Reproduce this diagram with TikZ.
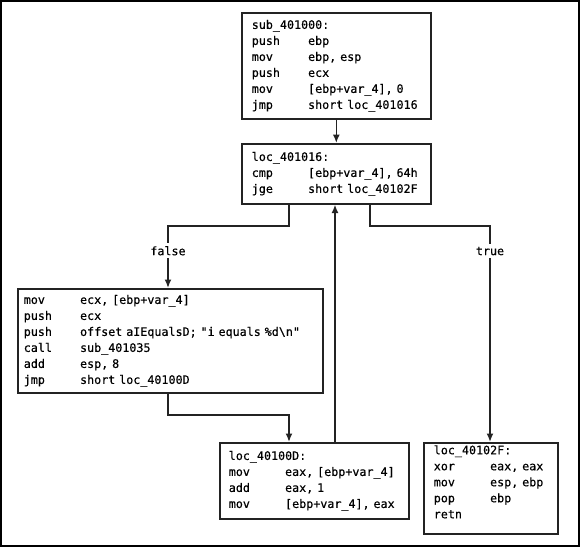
\documentclass[tikz,border=0pt]{standalone}
\usepackage{fontspec}
\setmonofont[FakeBold=0.4]{DejaVu Sans Mono}
\usetikzlibrary{arrows.meta}
\definecolor{edge}{RGB}{35,35,35}
\newcommand{\asm}[2]{\makebox[56.3pt][l]{#1}#2}
\newcommand{\monofnt}{\ttfamily\fontsize{11.7}{16}\selectfont\spaceskip=7.04pt\relax\xspaceskip=7.04pt\relax}
\tikzset{
  box/.style={draw=edge, line width=1.6pt, anchor=north west, align=left,
    font=\monofnt, inner ysep=0pt},
  arr/.style={draw=edge, line width=1.6pt, -{Latex[length=8.5pt,width=7pt]}},
  lbl/.style={fill=white, font=\monofnt, inner sep=3pt}
}
\begin{document}
\begin{tikzpicture}[x=1pt,y=-1pt]
\useasboundingbox (0,0) rectangle (580,547);
\draw[line width=2pt] (1,1) rectangle (579,546);

\node[box, inner xsep=10pt, text width=169pt, minimum height=106pt] (b1) at (241,12)
  {sub\_401000:\\
   \asm{push}{ebp}\\
   \asm{mov}{ebp, esp}\\
   \asm{push}{ecx}\\
   \asm{mov}{[ebp+var\_4], 0}\\
   \asm{jmp}{short loc\_401016}};

\node[box, inner xsep=10pt, text width=169pt, minimum height=60pt] (b2) at (241,143)
  {loc\_401016:\\
   \asm{cmp}{[ebp+var\_4], 64h}\\
   \asm{jge}{short loc\_40102F}};

\node[box, inner xsep=6pt, text width=293pt, minimum height=104pt] (b3) at (17,288)
  {\asm{mov}{ecx, [ebp+var\_4]}\\
   \asm{push}{ecx}\\
   \asm{push}{offset aIEqualsD; "i equals \%d\textbackslash n"}\\
   \asm{call}{sub\_401035}\\
   \asm{add}{esp, 8}\\
   \asm{jmp}{short loc\_40100D}};

\node[box, inner xsep=9pt, text width=171pt, minimum height=76pt] (b4) at (219,442)
  {loc\_40100D:\\
   \asm{mov}{eax, [ebp+var\_4]}\\
   \asm{add}{eax, 1}\\
   \asm{mov}{[ebp+var\_4], eax}};

\node[box, inner xsep=10pt, text width=114pt, minimum height=91pt] (b5) at (423,442)
  {loc\_40102F:\\
   \asm{xor}{eax, eax}\\
   \asm{mov}{esp, ebp}\\
   \asm{pop}{ebp}\\
   retn\rule[-13pt]{0pt}{0pt}};

\coordinate (fx) at (289,226);
\coordinate (fl) at (168,226);
\coordinate (tx) at (370,226);
\coordinate (tr) at (490,226);
\coordinate (lx) at (168,415);
\coordinate (lr) at (289,415);
\coordinate (bx) at (335,0);

\draw[arr] (b1.south) -- (b2.north);
\draw[arr] (b2.south -| fx) -- (fx) -- (fl) -- node[lbl, pos=0.4] (lf) {false} (b3.north -| fl);
\draw[arr] (b2.south -| tx) -- (tx) -- (tr) -- node[lbl, pos=0.116] (lt) {true} (b5.north -| tr);
\draw[arr] (b3.south -| lx) -- (lx) -- (lr) -- (b4.north -| lr);
\draw[arr] (b4.north -| bx) -- (b2.south -| bx);
\end{tikzpicture}
\end{document}
